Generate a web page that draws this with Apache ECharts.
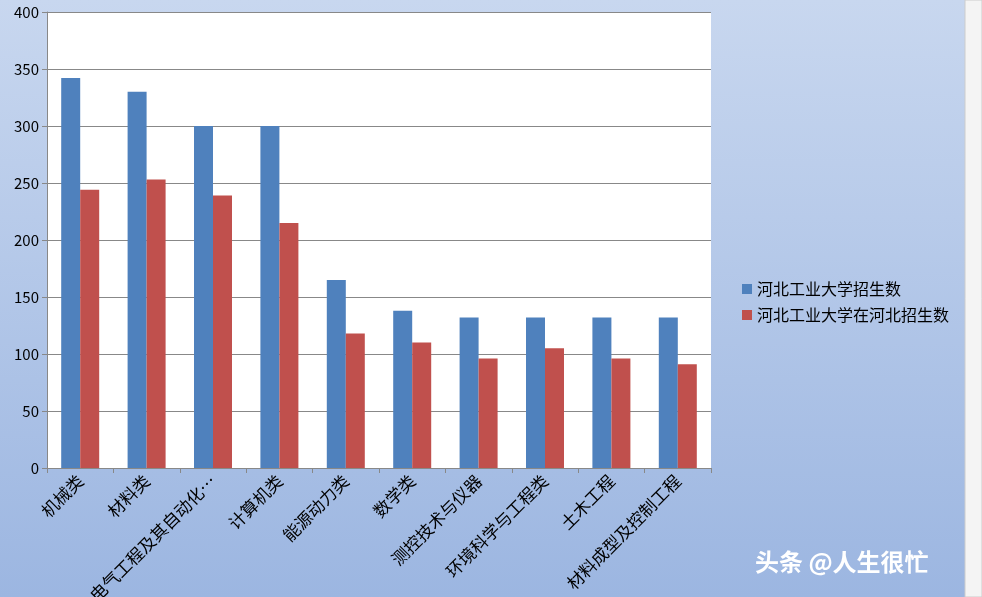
<!DOCTYPE html>
<html>
<head>
<meta charset="utf-8">
<script src="https://cdn.jsdelivr.net/npm/echarts@6/dist/echarts.min.js"></script>
<style>html,body{margin:0;padding:0}#main{width:982px;height:597px}</style>
</head>
<body>
<div id="main"></div>
<script>
// 专业类别
let categories = ['机械类', '材料类', '电气工程及其自动化…', '计算机类', '能源动力类', '数学类', '测控技术与仪器', '环境科学与工程类', '土木工程', '材料成型及控制工程']
let total_data = [342, 330, 300, 300, 165, 138, 132, 132, 132, 132]
let hebei_data = [244, 253, 239, 215, 118, 110, 96, 105, 96, 91]
let legend_data = ['河北工业大学招生数', '河北工业大学在河北招生数']

let chart = echarts.init(document.getElementById('main'))

option = {
  backgroundColor: new echarts.graphic.LinearGradient(0, 0, 0, 1, [
    { offset: 0, color: '#c8d7ef' },
    { offset: 1, color: '#9cb6e1' }
  ]),
  textStyle: { fontFamily: 'Noto Sans CJK SC' },
  grid: { left: 47, right: 271, top: 12, bottom: 129, outerBoundsMode: 'none', containLabel: false, backgroundColor: '#fff', show: true, borderWidth: 0 },
  legend: {
    orient: 'vertical',
    left: 737,
    top: 276,
    icon: 'rect',
    itemWidth: 10,
    itemHeight: 10,
    itemGap: 10,
    textStyle: { fontSize: 16, color: '#000' },
    data: legend_data
  },
  xAxis: {
    type: 'category',
    data: categories,
    axisLine: { lineStyle: { color: '#888' } },
    axisTick: { show: true, length: 5, lineStyle: { color: '#888' } },
    axisLabel: { rotate: 45, color: '#000', fontSize: 17, interval: 0, margin: 10 }
  },
  yAxis: {
    type: 'value',
    min: 0,
    max: 400,
    interval: 50,
    axisLine: { show: true, lineStyle: { color: '#888' } },
    axisTick: { show: true, lineStyle: { color: '#888' } },
    axisLabel: { color: '#000', fontSize: 15 },
    splitLine: { lineStyle: { color: '#888' } }
  },
  series: [
    {
      name: legend_data[0],
      type: 'bar',
      barWidth: 19,
      barGap: '0%',
      itemStyle: { color: '#4f81bd' },
      data: total_data
    },
    {
      name: legend_data[1],
      type: 'bar',
      barWidth: 19,
      itemStyle: { color: '#c0504d' },
      data: hebei_data
    }
  ],
  graphic: [
    { type: 'rect', shape: { x: 965, y: 0, width: 17, height: 597 }, style: { fill: '#f4f4f4', stroke: '#ccc' } },
    { type: 'text', left: 755, top: 550, style: { text: '头条 @人生很忙', fill: '#fff', fontSize: 24, fontFamily: 'Noto Sans CJK SC', fontWeight: 'bold', shadowColor: 'rgba(0,0,0,0.7)', shadowBlur: 2, shadowOffsetX: 1, shadowOffsetY: 1 } }
  ]
}

chart.setOption(option)
</script>
</body>
</html>
